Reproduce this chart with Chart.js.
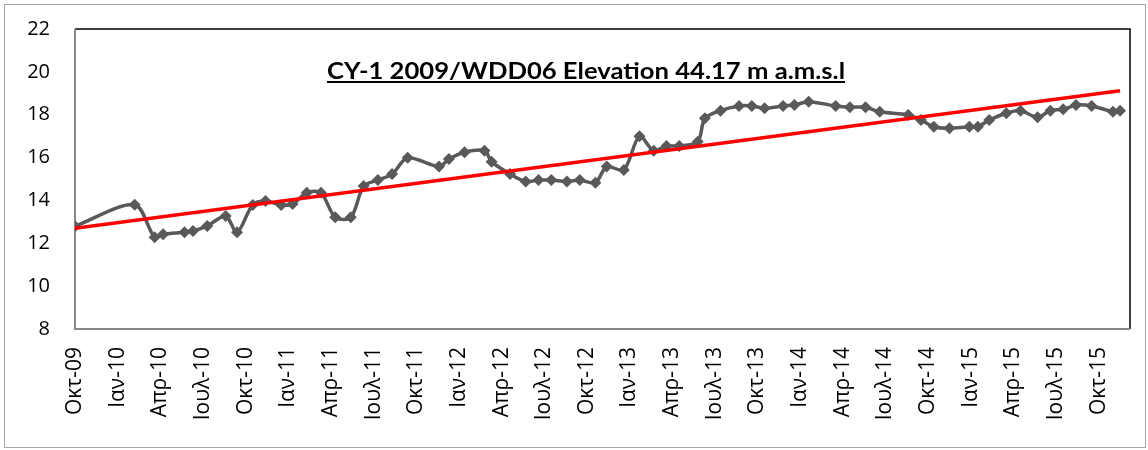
<!DOCTYPE html>
<html>
<head>
<meta charset="utf-8">
<script src="https://cdn.jsdelivr.net/npm/chart.js@4.4.1/dist/chart.umd.min.js"></script>
<style>
html,body{margin:0;padding:0;background:#fff;}
#wrap{width:1148px;height:450px;position:relative;}
</style>
</head>
<body>
<div id="wrap"><canvas id="c" width="1148" height="450"></canvas></div>
<script>
// Months elapsed since 1 Oct 2009 for each measurement
const months = [0,4.2,5.6,6.2,7.7,8.3,9.3,10.6,11.4,12.5,13.4,14.5,15.3,16.3,17.3,18.3,19.4,20.3,21.3,22.3,23.4,25.6,26.3,27.4,28.8,29.3,30.6,31.7,32.6,33.5,34.6,35.5,36.6,37.4,38.6,39.7,40.7,41.6,42.5,43.8,44.3,45.4,46.7,47.6,48.5,49.8,50.6,51.6,53.5,54.5,55.6,56.6,58.6,59.5,60.4,61.5,62.9,63.5,64.3,65.5,66.5,67.7,68.6,69.5,70.4,71.5,73.0,73.5];
// Water level (m)
const levels = [12.8,13.8,12.28,12.42,12.51,12.57,12.81,13.27,12.51,13.79,13.97,13.79,13.83,14.36,14.36,13.21,13.21,14.67,14.95,15.23,15.99,15.58,15.93,16.25,16.32,15.81,15.23,14.88,14.95,14.95,14.88,14.95,14.83,15.58,15.42,17.0,16.32,16.54,16.54,16.74,17.83,18.19,18.41,18.41,18.3,18.41,18.45,18.61,18.41,18.35,18.35,18.14,17.99,17.75,17.44,17.37,17.44,17.44,17.75,18.07,18.19,17.88,18.19,18.25,18.45,18.41,18.14,18.19];
// Trend line end values
const trendValues = [12.70, 19.12];
// X tick positions (months) and labels
const tickMonths = [0,3,6,9,12,15,18,21,24,27,30,33,36,39,42,45,48,51,54,57,60,63,66,69,72];
const tickLabels = ["Οκτ-09","Ιαν-10","Απρ-10","Ιουλ-10","Οκτ-10","Ιαν-11","Απρ-11","Ιουλ-11","Οκτ-11","Ιαν-12","Απρ-12","Ιουλ-12","Οκτ-12","Ιαν-13","Απρ-13","Ιουλ-13","Οκτ-13","Ιαν-14","Απρ-14","Ιουλ-14","Οκτ-14","Ιαν-15","Απρ-15","Ιουλ-15","Οκτ-15"];
const yTicks = [8,10,12,14,16,18,20,22];
const titleText = "CY-1 2009/WDD06 Elevation 44.17 m a.m.s.l";

const FONT = "'Open Sans', 'Liberation Sans', sans-serif";
const TITLE_FONT = "Lato, 'Open Sans', sans-serif";

const seriesData = months.map((m,i)=>({x:m,y:levels[i]}));
const trendData = [{x:months[0],y:trendValues[0]},{x:months[months.length-1],y:trendValues[1]}];

const decor = {
  id:'decor',
  beforeDraw(chart){
    const ctx = chart.ctx;
    ctx.save();
    ctx.fillStyle='#fff';
    ctx.fillRect(0,0,chart.width,chart.height);
    ctx.strokeStyle='#a6a6a6';
    ctx.lineWidth=1;
    ctx.strokeRect(4.5,4.5,1141,443);
    ctx.restore();
  },
  beforeDatasetsDraw(chart){
    const ctx = chart.ctx, xs = chart.scales.x, ys = chart.scales.y;
    const L = xs.getPixelForValue(xs.min), R = xs.getPixelForValue(xs.max);
    const T = ys.getPixelForValue(ys.max), B = ys.getPixelForValue(ys.min);
    ctx.save();
    ctx.strokeStyle='#000';
    ctx.lineWidth=1.5;
    ctx.beginPath();
    ctx.moveTo(L, T);
    ctx.lineTo(R, T);
    ctx.lineTo(R, B);
    ctx.stroke();
    ctx.strokeStyle='#868686';
    ctx.lineWidth=2;
    ctx.beginPath();
    ctx.moveTo(L, T);
    ctx.lineTo(L, B);
    ctx.lineTo(R, B);
    ctx.stroke();
    // title (bold, underlined), stretched to the reference width
    ctx.font = "bold 23px " + TITLE_FONT;
    ctx.fillStyle='#000';
    ctx.textAlign='left';
    ctx.textBaseline='alphabetic';
    const targetW = 518, x0 = 327, by = 79;
    const w = ctx.measureText(titleText).width;
    ctx.save();
    ctx.translate(x0, by);
    ctx.scale(targetW / w, 1);
    ctx.fillText(titleText, 0, 0);
    ctx.restore();
    ctx.fillRect(x0, by+2, targetW, 2);
    ctx.restore();
  }
};

new Chart(document.getElementById('c'), {
  type:'line',
  data:{
    datasets:[
      {data:seriesData, borderColor:'#595959', backgroundColor:'#595959', borderWidth:3.5,
       pointStyle:'rectRot', pointRadius:6, pointBorderWidth:0, tension:0.3, order:2},
      {data:trendData, borderColor:'#ff0000', borderWidth:3.5, pointRadius:0, tension:0, order:1}
    ]
  },
  options:{
    responsive:false,
    animation:false,
    events:[],
    layout:{padding:{left:0,top:29,right:18,bottom:0}},
    plugins:{legend:{display:false},tooltip:{enabled:false},title:{display:false}},
    scales:{
      x:{
        type:'linear', min:0, max:74.2,
        grid:{display:false, drawTicks:false}, border:{display:false},
        afterFit(s){ s.height = 121; s.paddingTop = 0; s.paddingBottom = 0; },
        afterBuildTicks(s){ s.ticks = tickMonths.map(v=>({value:v})); },
        ticks:{autoSkip:false, minRotation:90, maxRotation:90, padding:18, color:'#000',
          font:{family:FONT,size:21},
          callback(v){ const i = tickMonths.indexOf(v); return i>=0 ? tickLabels[i] : ''; }}
      },
      y:{
        min:8, max:22,
        grid:{display:false, drawTicks:false}, border:{display:false},
        afterFit(s){ s.width = 75; s.paddingTop = 0; s.paddingBottom = 0; },
        afterBuildTicks(s){ s.ticks = yTicks.map(v=>({value:v})); },
        ticks:{padding:25, color:'#000', font:{family:FONT,size:20}}
      }
    }
  },
  plugins:[decor]
});
</script>
</body>
</html>
